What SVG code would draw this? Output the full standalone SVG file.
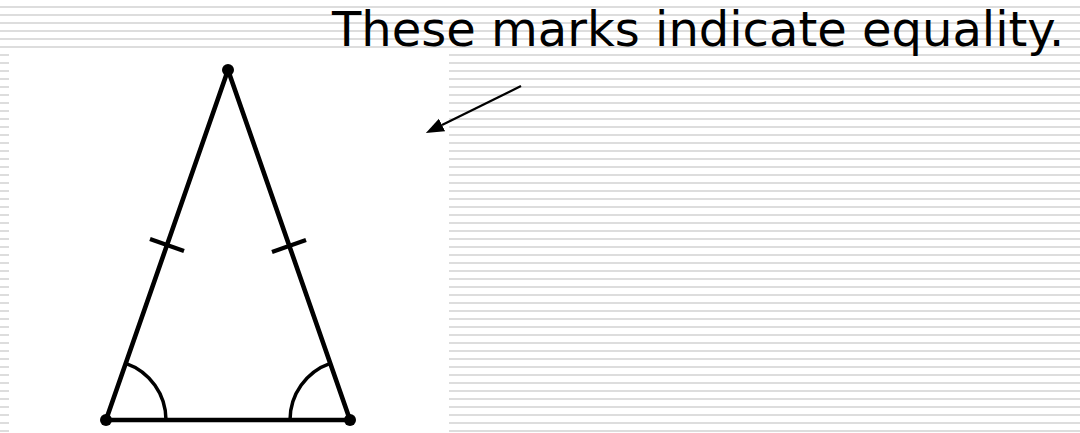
<svg xmlns="http://www.w3.org/2000/svg" width="1080" height="433" viewBox="0 0 1080 433">
  <style>
    .edge { stroke: #000; stroke-width: 4.6; fill: none; stroke-linecap: round; stroke-linejoin: round; }
    .tick { stroke: #000; stroke-width: 4.2; fill: none; }
    .arc { stroke: #000; stroke-width: 3.5; fill: none; }
    .dot { fill: #000; }
    .label { font-family: "DejaVu Sans", Verdana, sans-serif; font-size: 48px; fill: #000; }
    .conn { stroke: #000; stroke-width: 2.2; fill: none; }
  </style>
  <defs>
    <pattern id="stripes" patternUnits="userSpaceOnUse" x="0" y="0" width="1080" height="8">
      <rect x="0" y="6" width="1080" height="2" fill="#dddddd"/>
    </pattern>
    <marker id="arrowhead" markerUnits="userSpaceOnUse" markerWidth="20" markerHeight="16" refX="0" refY="7" orient="auto">
      <path d="M0,0 L18,7 L0,14 z" fill="#000"/>
    </marker>
  </defs>

  <rect x="0" y="0" width="1080" height="433" fill="#fff"/>
  <rect x="0" y="0" width="1080" height="433" fill="url(#stripes)"/>
  <rect x="9" y="50" width="440" height="383" fill="#fff"/>

  <g id="triangle">
    <path class="edge" d="M228,70 L106,420 L350,420 Z"/>
    <line class="tick" x1="150" y1="239" x2="184" y2="251"/>
    <line class="tick" x1="272" y1="252" x2="306" y2="240"/>
    <path class="arc" d="M166,420 A60,60 0 0 0 125.75,363.33"/>
    <path class="arc" d="M290,420 A60,60 0 0 1 330.25,363.33"/>
  </g>
  <g id="vertex-top"><circle class="dot" cx="228" cy="70" r="6"/></g>
  <g id="vertex-left"><circle class="dot" cx="106" cy="420" r="6"/></g>
  <g id="vertex-right"><circle class="dot" cx="350" cy="420" r="6"/></g>

  <g id="label">
    <text class="label" x="332" y="46">These marks indicate equality.</text>
  </g>

  <g id="connectors">
    <line class="conn" x1="521" y1="86" x2="442" y2="125" marker-end="url(#arrowhead)"/>
  </g>
</svg>
